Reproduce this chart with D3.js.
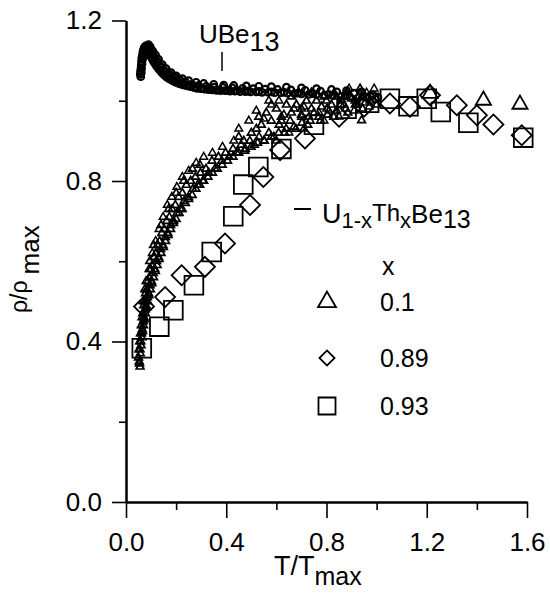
<!DOCTYPE html>
<html>
<head>
<meta charset="utf-8">
<script src="https://cdn.jsdelivr.net/npm/d3@7"></script>
<style>
  body { margin: 0; background: #fff; }
  text { font-family: "Liberation Sans", Arial, sans-serif; fill: #000; }
</style>
</head>
<body>
<div id="chart-area"></div>
<script>

// DATA  [T/Tmax, rho/rhomax]

// UBe13, pure compound (three overlapping sweeps)
let ube13 = [
	[0.057,1.066],[0.058,1.074],[0.060,1.082],[0.061,1.090],[0.062,1.098],[0.063,1.106],
	[0.065,1.112],[0.067,1.120],[0.069,1.125],[0.072,1.131],[0.075,1.134],[0.079,1.137],
	[0.083,1.134],[0.087,1.134],[0.091,1.128],[0.095,1.127],[0.100,1.119],[0.105,1.118],
	[0.110,1.109],[0.116,1.107],[0.122,1.097],[0.128,1.096],[0.135,1.086],[0.142,1.084],
	[0.150,1.074],[0.158,1.073],[0.166,1.065],[0.175,1.065],[0.184,1.057],[0.194,1.058],
	[0.204,1.051],[0.215,1.052],[0.226,1.045],[0.238,1.046],[0.250,1.039],[0.263,1.041],
	[0.276,1.035],[0.290,1.038],[0.305,1.031],[0.320,1.036],[0.336,1.029],[0.352,1.034],
	[0.369,1.027],[0.387,1.033],[0.405,1.026],[0.424,1.032],[0.444,1.025],[0.465,1.031],
	[0.486,1.024],[0.508,1.030],[0.531,1.023],[0.555,1.029],[0.580,1.022],[0.605,1.028],
	[0.631,1.021],[0.658,1.027],[0.686,1.019],[0.715,1.026],[0.745,1.018],[0.776,1.024],
	[0.808,1.016],[0.841,1.022],[0.875,1.014],[0.910,1.019],[0.946,1.011],[0.983,1.015],
	[1.005,1.008]
];
let ube13b = [
	[0.059,1.060],[0.061,1.070],[0.062,1.080],[0.064,1.092],[0.066,1.103],[0.068,1.112],
	[0.071,1.120],[0.074,1.126],[0.077,1.128],[0.081,1.128],[0.085,1.126],[0.089,1.122],
	[0.093,1.117],[0.098,1.111],[0.103,1.106],[0.108,1.100],[0.113,1.095],[0.119,1.089],
	[0.125,1.084],[0.132,1.078],[0.139,1.073],[0.146,1.068],[0.154,1.063],[0.162,1.059],
	[0.171,1.055],[0.180,1.052],[0.189,1.049],[0.199,1.046],[0.210,1.043],[0.221,1.041],
	[0.232,1.039],[0.244,1.037],[0.257,1.035],[0.270,1.033],[0.283,1.031],[0.298,1.030],
	[0.313,1.029],[0.328,1.028],[0.344,1.027],[0.361,1.026],[0.378,1.025],[0.396,1.025],
	[0.415,1.024],[0.434,1.024],[0.455,1.023],[0.476,1.023],[0.497,1.022],[0.520,1.022],
	[0.543,1.021],[0.568,1.021],[0.593,1.020],[0.618,1.020],[0.645,1.019],[0.672,1.018],
	[0.700,1.017],[0.730,1.016],[0.760,1.015],[0.792,1.014],[0.825,1.013],[0.858,1.011],
	[0.893,1.010],[0.928,1.008],[0.965,1.006],[0.995,1.004]
];
let ube13c = [
	[0.090,1.140],[0.097,1.134],[0.107,1.124],[0.118,1.114],[0.130,1.103],[0.145,1.090],
	[0.160,1.080],[0.180,1.070],[0.200,1.062],[0.225,1.055],[0.250,1.050],[0.280,1.046],
	[0.310,1.043],[0.350,1.041],[0.390,1.039],[0.430,1.038],[0.480,1.037],[0.530,1.036],
	[0.580,1.035],[0.640,1.034],[0.700,1.032],[0.760,1.030],[0.820,1.028],[0.880,1.025],
	[0.940,1.022]
];

// x = 0.1, dense low-T run (small triangles)
let tri01 = [
	[0.050,0.36],[0.052,0.38],[0.053,0.35],[0.055,0.40],[0.056,0.38],[0.058,0.42],
	[0.059,0.40],[0.061,0.44],[0.062,0.42],[0.064,0.46],[0.065,0.43],[0.067,0.47],
	[0.069,0.45],[0.071,0.49],[0.072,0.46],[0.074,0.50],[0.076,0.48],[0.078,0.52],
	[0.080,0.49],[0.083,0.53],[0.085,0.51],[0.088,0.55],[0.090,0.52],[0.093,0.56],
	[0.096,0.54],[0.099,0.58],[0.102,0.55],[0.105,0.59],[0.108,0.57],[0.112,0.61],
	[0.115,0.58],[0.119,0.62],[0.122,0.60],[0.126,0.64],[0.130,0.61],[0.134,0.65],
	[0.138,0.63],[0.143,0.67],[0.147,0.64],[0.152,0.68],[0.157,0.66],[0.162,0.70],
	[0.167,0.67],[0.173,0.71],[0.178,0.69],[0.184,0.73],[0.190,0.70],[0.197,0.74],
	[0.203,0.72],[0.210,0.76],[0.217,0.73],[0.225,0.77],[0.232,0.75],[0.241,0.79],
	[0.249,0.76],[0.258,0.80],[0.267,0.78],[0.277,0.81],[0.286,0.79],[0.297,0.82],
	[0.307,0.80],[0.319,0.83],[0.330,0.82],[0.343,0.85],[0.355,0.83],[0.369,0.86],
	[0.382,0.85],[0.397,0.87],[0.411,0.86],[0.427,0.88],[0.442,0.87],[0.459,0.89],
	[0.476,0.88],[0.494,0.90],[0.512,0.89],[0.531,0.91],[0.550,0.90],[0.570,0.92],
	[0.590,0.91],[0.611,0.94],[0.633,0.92],[0.655,0.95],[0.678,0.93],[0.701,0.96],
	[0.725,0.94],[0.750,0.97],[0.776,0.95],[0.802,0.98],[0.829,0.96],[0.857,0.99],
	[0.885,0.97],[0.914,1.00],[0.944,0.98],[0.974,1.00],[1.000,0.99],
	[0.110,0.64],[0.140,0.69],[0.170,0.73],[0.200,0.77],[0.230,0.80],[0.265,0.83],
	[0.295,0.84],[0.075,0.53],[0.095,0.60],[0.056,0.337],[0.934,1.03],[0.940,0.951],
	[0.620,0.96],[0.700,0.98],[0.520,0.93],[0.800,1.00],[0.450,0.91]
];
let tri01b = [
	[0.054,0.345],[0.057,0.37],[0.060,0.39],[0.063,0.41],[0.066,0.425],[0.070,0.44],
	[0.073,0.455],[0.077,0.47],[0.081,0.485],[0.086,0.50],[0.091,0.515],[0.097,0.53],
	[0.103,0.545],[0.110,0.56],[0.117,0.575],[0.124,0.59],[0.132,0.605],[0.140,0.62],
	[0.149,0.635],[0.158,0.65],[0.168,0.665],[0.178,0.68],[0.189,0.695],[0.200,0.705],
	[0.212,0.72],[0.224,0.73],[0.237,0.745],[0.250,0.755],[0.264,0.765],[0.279,0.78],
	[0.294,0.79],[0.310,0.80],[0.327,0.81],[0.345,0.82],[0.364,0.83],[0.384,0.84],
	[0.405,0.85],[0.427,0.86],[0.450,0.87],[0.474,0.875],[0.499,0.885],[0.525,0.895],
	[0.552,0.90],[0.580,0.91],[0.609,0.92],[0.639,0.93],[0.670,0.935],[0.702,0.945],
	[0.735,0.95],[0.769,0.96],[0.804,0.965],[0.840,0.975],[0.877,0.98],[0.915,0.99],
	[0.954,0.995],
	[0.50,0.92],[0.54,0.94],[0.58,0.95],[0.62,0.95],[0.66,0.97],[0.70,0.965],[0.74,0.98],
	[0.78,0.985],[0.82,0.99],[0.86,1.00],[0.90,1.005],[0.94,1.01],[0.98,1.01],[0.56,0.97],
	[0.64,0.99],[0.72,1.00],[0.76,1.00],[0.84,1.01],[0.88,1.02],[0.60,0.98],[0.68,0.99],
	[0.47,0.90],[0.53,0.96],[0.58,0.99],[0.66,1.01],[0.74,1.02]
];
let tri01c = [
	[0.068,0.50],[0.080,0.55],[0.092,0.58],[0.105,0.62],[0.118,0.65],[0.132,0.68],
	[0.148,0.71],[0.165,0.74],[0.183,0.76],[0.203,0.785],[0.225,0.81],[0.250,0.825],
	[0.280,0.845],[0.310,0.86],[0.345,0.87],[0.385,0.885],[0.430,0.90],
	[0.45,0.93],[0.49,0.95],[0.52,0.975],[0.55,0.955],[0.57,1.00],[0.61,1.00],[0.63,0.965],
	[0.67,0.98],[0.69,1.02],[0.71,0.985],[0.73,0.96],[0.77,0.97],[0.79,1.01],[0.81,0.975],
	[0.83,1.02],[0.87,0.99],[0.89,1.03],[0.92,0.99],[0.96,1.02],[0.99,1.03],[0.60,0.90],
	[0.65,0.92],[0.71,0.93],[0.79,0.95],[0.85,0.96],[0.91,0.975],[0.97,0.985]
];

// x = 0.1, high-T points (large triangles)
let tri01High = [[1.213,1.018],[1.426,1.001],[1.572,0.991]];

// x = 0.89
let dia089 = [
	[0.072,0.487],[0.156,0.511],[0.222,0.565],[0.315,0.586],[0.395,0.644],[0.495,0.740],
	[0.548,0.810],[0.615,0.877],[0.714,0.906],[0.850,0.960],[0.950,0.985],[1.053,0.993],
	[1.133,0.985],[1.213,1.014],[1.320,0.989],[1.400,0.964],[1.466,0.941],[1.579,0.914]
];

// x = 0.93
let sq093 = [
	[0.063,0.383],[0.133,0.437],[0.189,0.478],[0.271,0.540],[0.342,0.623],[0.428,0.712],
	[0.468,0.791],[0.528,0.835],[0.620,0.880],[0.750,0.940],[0.880,0.980],[0.970,0.995],
	[1.053,1.005],[1.127,0.986],[1.200,1.005],[1.256,0.972],[1.366,0.945],[1.585,0.908]
];

let legendRows = ["0.1", "0.89", "0.93"];
let xTicks = [0, 0.4, 0.8, 1.2, 1.6],
	xMinor = [0.2, 0.6, 1.0, 1.4];
let yTicks = [0, 0.4, 0.8, 1.2],
	yMinor = [0.2, 0.6, 1.0];


// CHART AREA
let W = 550, H = 596;

let svg = d3.select("#chart-area").append("svg")
	.attr("width", W)
	.attr("height", H);

let xScale = d3.scaleLinear().domain([0, 1.6]).range([126, 527]);
let yScale = d3.scaleLinear().domain([0, 1.2]).range([502, 20.5]);

let fmt = d3.format(".1f");

// AXES
function styleAxis(g) {
	g.select(".domain").attr("stroke", "#000").attr("stroke-width", 2);
	g.selectAll(".tick line").attr("stroke", "#000").attr("stroke-width", 1.6);
	g.selectAll(".tick text")
		.style("font-family", "'Liberation Sans', Arial, sans-serif")
		.style("font-size", "26px")
		.attr("fill", "#000");
}

svg.append("g")
	.attr("transform", "translate(0," + yScale(0) + ")")
	.call(d3.axisBottom(xScale).tickValues(xMinor).tickSize(8).tickSizeOuter(0).tickFormat(""))
	.call(styleAxis);
svg.append("g")
	.attr("transform", "translate(0," + yScale(0) + ")")
	.call(d3.axisBottom(xScale).tickValues(xTicks).tickSize(16).tickSizeOuter(0).tickPadding(15).tickFormat(fmt))
	.call(styleAxis);

svg.append("g")
	.attr("transform", "translate(" + xScale(0) + ",0)")
	.call(d3.axisLeft(yScale).tickValues(yMinor).tickSize(7).tickSizeOuter(0).tickFormat(""))
	.call(styleAxis);
svg.append("g")
	.attr("transform", "translate(" + xScale(0) + ",0)")
	.call(d3.axisLeft(yScale).tickValues(yTicks).tickSize(14).tickSizeOuter(0).tickPadding(10).tickFormat(fmt))
	.call(styleAxis);

// AXIS TITLES
let xt = svg.append("text")
	.attr("x", 274).attr("y", 575)
	.style("font-size", "27px");
xt.append("tspan").text("T/T");
xt.append("tspan").attr("dy", 10).style("font-size", "25px").text("max");

let yt = svg.append("text")
	.attr("transform", "translate(27,313) rotate(-90)")
	.style("font-size", "23px");
yt.append("tspan").text("\u03c1/\u03c1");
yt.append("tspan").attr("dx", 6).attr("dy", 12).style("font-size", "26px").text("max");


// MARKS
let sym = (type, size) => d3.symbol().type(type).size(size)();

function drawSymbols(data, type, size, cls, rot, sw) {
	svg.selectAll("." + cls)
		.data(data)
		.enter()
		.append("path")
		.attr("class", cls)
		.attr("d", sym(type, size))
		.attr("transform", d => "translate(" + xScale(d[0]) + "," + yScale(d[1]) + ")" + (rot ? " rotate(45)" : ""))
		.attr("fill", "none")
		.attr("stroke", "#000")
		.attr("stroke-width", sw);
}

drawSymbols(sq093, d3.symbolSquare, 350, "sq", false, 1.8);
drawSymbols(dia089, d3.symbolSquare, 200, "dia", true, 1.8);
drawSymbols(tri01, d3.symbolTriangle, 26, "tri", false, 1.7);
drawSymbols(tri01b, d3.symbolTriangle, 26, "trib", false, 1.7);
drawSymbols(tri01c, d3.symbolTriangle, 26, "tric", false, 1.5);
drawSymbols(tri01High, d3.symbolTriangle, 100, "triH", false, 1.8);

function drawUbe(data, cls) {
	svg.selectAll("." + cls)
		.data(data)
		.enter()
		.append("circle")
		.attr("class", cls)
		.attr("cx", d => xScale(d[0]))
		.attr("cy", d => yScale(d[1]))
		.attr("r", 3.3)
		.attr("fill", "none")
		.attr("stroke", "#000")
		.attr("stroke-width", 2.2);
}
drawUbe(ube13, "ube");
drawUbe(ube13b, "ubeb");
drawUbe(ube13c, "ubec");


// LABELS
let ul = svg.append("text")
	.attr("x", 199).attr("y", 43)
	.style("font-size", "26px");
ul.append("tspan").text("UBe");
ul.append("tspan").attr("dy", 8).style("font-size", "27px").text("13");
svg.append("line")
	.attr("x1", 222).attr("x2", 222)
	.attr("y1", 52).attr("y2", 71)
	.attr("stroke", "#000").attr("stroke-width", 1.5);

// LEGEND
svg.append("line")
	.attr("x1", 294).attr("x2", 311)
	.attr("y1", 209).attr("y2", 209)
	.attr("stroke", "#000").attr("stroke-width", 2);

let lt = svg.append("text")
	.attr("x", 322).attr("y", 223)
	.style("font-size", "27px");
lt.append("tspan").text("U");
lt.append("tspan").attr("dy", 5).style("font-size", "22px").text("1-x");
lt.append("tspan").attr("dy", -7).style("font-size", "24px").text("Th");
lt.append("tspan").attr("dy", 7).style("font-size", "22px").text("x");
lt.append("tspan").attr("dy", -5).style("font-size", "26px").text("Be");
lt.append("tspan").attr("dy", 5).style("font-size", "25px").text("13");

svg.append("text")
	.attr("x", 382).attr("y", 275)
	.style("font-size", "25px")
	.text("x");

let legY = [302, 358, 406];
let legSym = [
	{type: d3.symbolTriangle, size: 140, rot: false},
	{type: d3.symbolSquare, size: 115, rot: true},
	{type: d3.symbolSquare, size: 290, rot: false}
];

legendRows.forEach(function(lab, i) {
	svg.append("path")
		.attr("d", sym(legSym[i].type, legSym[i].size))
		.attr("transform", "translate(327," + legY[i] + ")" + (legSym[i].rot ? " rotate(45)" : ""))
		.attr("fill", "none")
		.attr("stroke", "#000")
		.attr("stroke-width", 1.8);
	svg.append("text")
		.attr("x", 380).attr("y", legY[i] + 8.5)
		.style("font-size", "25px")
		.text(lab);
});

</script>
</body>
</html>
